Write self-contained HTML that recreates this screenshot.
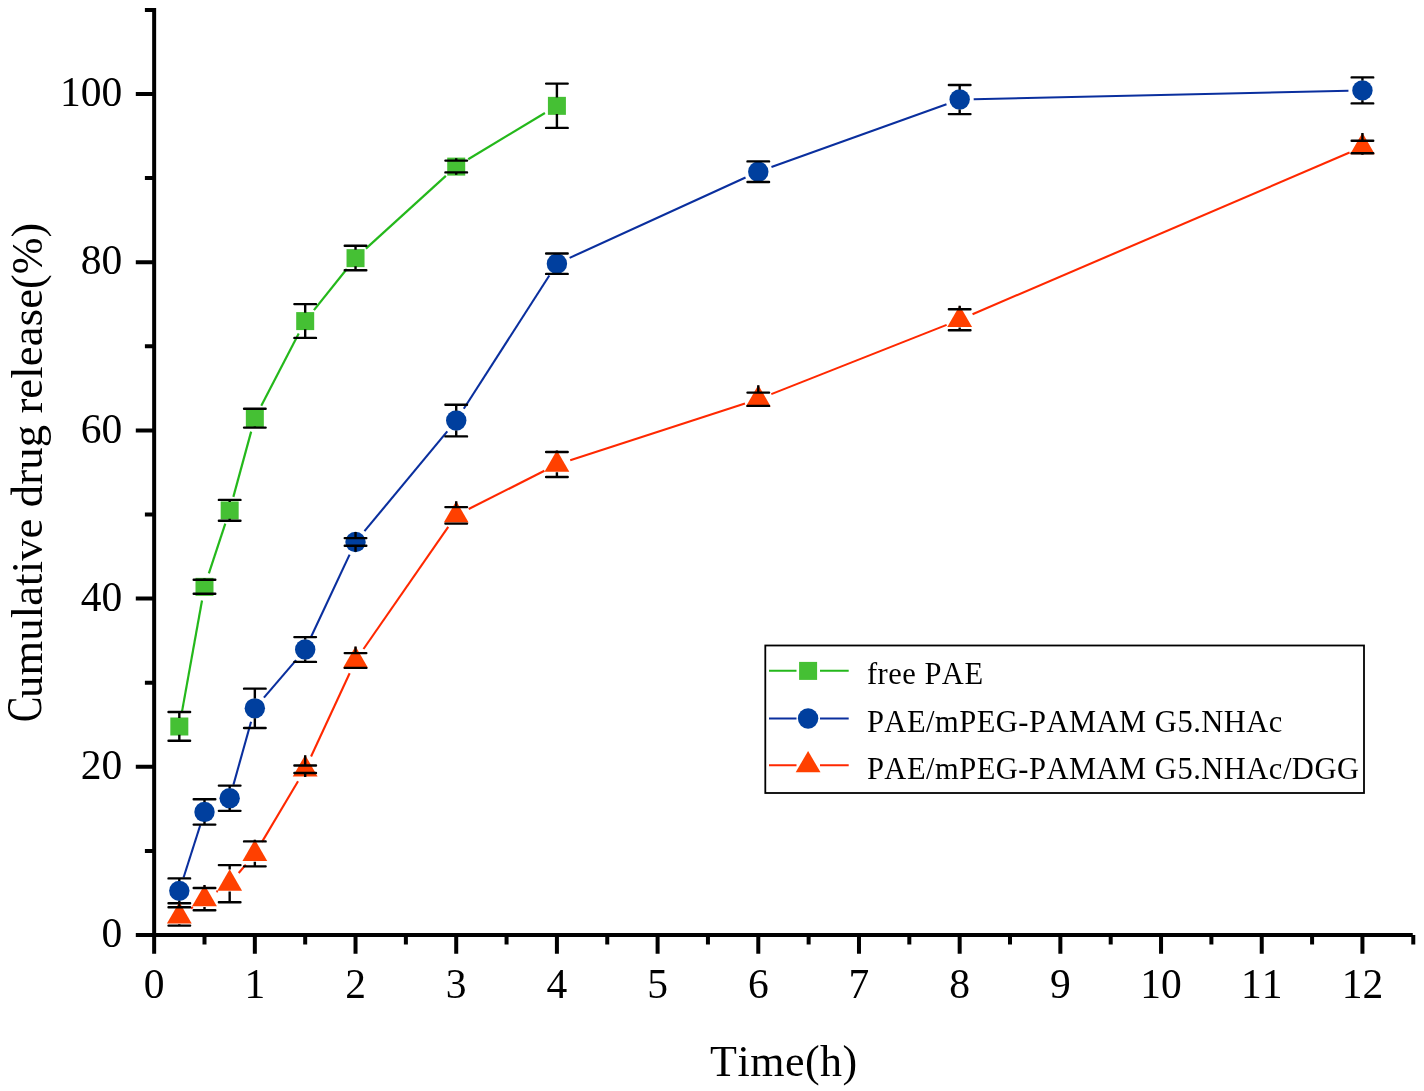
<!DOCTYPE html>
<html lang="en"><head><meta charset="utf-8"><title>Cumulative drug release</title>
<style>html,body{margin:0;padding:0;background:#fff}body{width:1424px;height:1091px;overflow:hidden}svg{display:block}text{font-kerning:none}</style>
</head><body>
<svg width="1424" height="1091" viewBox="0 0 1424 1091">
<rect width="1424" height="1091" fill="#fff"/>
<line x1="181.81" y1="712.62" x2="202.01" y2="600.53" stroke="#24b81b" stroke-width="2.2"/>
<line x1="208.88" y1="573.45" x2="225.29" y2="523.65" stroke="#24b81b" stroke-width="2.2"/>
<line x1="233.35" y1="496.84" x2="251.15" y2="431.66" stroke="#24b81b" stroke-width="2.2"/>
<line x1="261.28" y1="405.72" x2="298.74" y2="333.43" stroke="#24b81b" stroke-width="2.2"/>
<line x1="313.93" y1="310.07" x2="346.79" y2="268.98" stroke="#24b81b" stroke-width="2.2"/>
<line x1="365.89" y1="248.63" x2="445.86" y2="175.92" stroke="#24b81b" stroke-width="2.2"/>
<line x1="468.21" y1="159.27" x2="544.92" y2="112.98" stroke="#24b81b" stroke-width="2.2"/>
<rect x="170.32" y="717.50" width="18" height="18" fill="#45c034"/>
<rect x="195.50" y="577.85" width="18" height="18" fill="#45c034"/>
<rect x="220.67" y="501.45" width="18" height="18" fill="#45c034"/>
<rect x="245.84" y="409.25" width="18" height="18" fill="#45c034"/>
<rect x="296.19" y="312.10" width="18" height="18" fill="#45c034"/>
<rect x="346.53" y="249.15" width="18" height="18" fill="#45c034"/>
<rect x="447.22" y="157.60" width="18" height="18" fill="#45c034"/>
<rect x="547.91" y="96.85" width="18" height="18" fill="#45c034"/>
<path d="M168.52,712.00H190.12M168.52,740.80H190.12" stroke="#000" stroke-width="2.4" stroke-linecap="round" fill="none"/>
<path d="M179.32,712.00V718.10M179.32,740.80V734.70" stroke="#000" stroke-width="2.4" fill="none"/>
<path d="M193.69,579.70H215.30M193.69,593.80H215.30" stroke="#000" stroke-width="2.4" stroke-linecap="round" fill="none"/>
<path d="M204.50,579.70V578.45M204.50,593.80V595.05" stroke="#000" stroke-width="2.4" fill="none"/>
<path d="M218.87,499.90H240.47M218.87,520.80H240.47" stroke="#000" stroke-width="2.4" stroke-linecap="round" fill="none"/>
<path d="M229.67,499.90V502.05M229.67,520.80V518.65" stroke="#000" stroke-width="2.4" fill="none"/>
<path d="M244.04,408.70H265.64M244.04,427.60H265.64" stroke="#000" stroke-width="2.4" stroke-linecap="round" fill="none"/>
<path d="M254.84,408.70V409.85M254.84,427.60V426.45" stroke="#000" stroke-width="2.4" fill="none"/>
<path d="M294.38,304.10H315.99M294.38,337.90H315.99" stroke="#000" stroke-width="2.4" stroke-linecap="round" fill="none"/>
<path d="M305.19,304.10V312.70M305.19,337.90V329.30" stroke="#000" stroke-width="2.4" fill="none"/>
<path d="M344.73,245.80H366.33M344.73,270.30H366.33" stroke="#000" stroke-width="2.4" stroke-linecap="round" fill="none"/>
<path d="M355.53,245.80V249.75M355.53,270.30V266.35" stroke="#000" stroke-width="2.4" fill="none"/>
<path d="M445.42,160.60H467.02M445.42,172.40H467.02" stroke="#000" stroke-width="2.4" stroke-linecap="round" fill="none"/>
<path d="M456.22,160.60V158.20M456.22,172.40V174.80" stroke="#000" stroke-width="2.4" fill="none"/>
<path d="M546.11,83.60H567.71M546.11,127.90H567.71" stroke="#000" stroke-width="2.4" stroke-linecap="round" fill="none"/>
<path d="M556.91,83.60V97.45M556.91,127.90V114.05" stroke="#000" stroke-width="2.4" fill="none"/>
<line x1="183.58" y1="877.51" x2="200.24" y2="825.29" stroke="#0a2f9e" stroke-width="2.1"/>
<line x1="233.44" y1="784.74" x2="251.07" y2="721.81" stroke="#0a2f9e" stroke-width="2.1"/>
<line x1="263.94" y1="697.69" x2="296.08" y2="660.14" stroke="#0a2f9e" stroke-width="2.1"/>
<line x1="311.12" y1="636.82" x2="349.59" y2="554.63" stroke="#0a2f9e" stroke-width="2.1"/>
<line x1="364.47" y1="531.18" x2="447.28" y2="431.35" stroke="#0a2f9e" stroke-width="2.1"/>
<line x1="463.78" y1="408.79" x2="549.35" y2="275.48" stroke="#0a2f9e" stroke-width="2.1"/>
<line x1="569.64" y1="257.88" x2="745.56" y2="177.52" stroke="#0a2f9e" stroke-width="2.1"/>
<line x1="771.47" y1="166.98" x2="946.49" y2="104.27" stroke="#0a2f9e" stroke-width="2.1"/>
<line x1="973.67" y1="99.23" x2="1348.43" y2="90.72" stroke="#0a2f9e" stroke-width="2.1"/>
<circle cx="179.32" cy="890.85" r="10.2" fill="#003f9e"/>
<circle cx="204.50" cy="811.95" r="10.2" fill="#003f9e"/>
<circle cx="229.67" cy="798.23" r="10.2" fill="#003f9e"/>
<circle cx="254.84" cy="708.33" r="10.2" fill="#003f9e"/>
<circle cx="305.19" cy="649.50" r="10.2" fill="#003f9e"/>
<circle cx="355.53" cy="541.95" r="10.2" fill="#003f9e"/>
<circle cx="456.22" cy="420.57" r="10.2" fill="#003f9e"/>
<circle cx="556.91" cy="263.70" r="10.2" fill="#003f9e"/>
<circle cx="758.29" cy="171.70" r="10.2" fill="#003f9e"/>
<circle cx="959.67" cy="99.55" r="10.2" fill="#003f9e"/>
<circle cx="1362.43" cy="90.40" r="10.2" fill="#003f9e"/>
<path d="M168.52,878.40H190.12M168.52,903.30H190.12" stroke="#000" stroke-width="2.4" stroke-linecap="round" fill="none"/>
<path d="M179.32,878.40V880.95M179.32,903.30V900.75" stroke="#000" stroke-width="2.4" fill="none"/>
<path d="M193.69,799.30H215.30M193.69,824.60H215.30" stroke="#000" stroke-width="2.4" stroke-linecap="round" fill="none"/>
<path d="M204.50,799.30V802.05M204.50,824.60V821.85" stroke="#000" stroke-width="2.4" fill="none"/>
<path d="M218.87,785.60H240.47M218.87,810.85H240.47" stroke="#000" stroke-width="2.4" stroke-linecap="round" fill="none"/>
<path d="M229.67,785.60V788.33M229.67,810.85V808.12" stroke="#000" stroke-width="2.4" fill="none"/>
<path d="M244.04,688.65H265.64M244.04,728.00H265.64" stroke="#000" stroke-width="2.4" stroke-linecap="round" fill="none"/>
<path d="M254.84,688.65V698.43M254.84,728.00V718.23" stroke="#000" stroke-width="2.4" fill="none"/>
<path d="M294.38,637.10H315.99M294.38,661.90H315.99" stroke="#000" stroke-width="2.4" stroke-linecap="round" fill="none"/>
<path d="M305.19,637.10V639.60M305.19,661.90V659.40" stroke="#000" stroke-width="2.4" fill="none"/>
<path d="M344.73,538.10H366.33M344.73,545.80H366.33" stroke="#000" stroke-width="2.4" stroke-linecap="round" fill="none"/>
<path d="M355.53,538.10V532.05M355.53,545.80V551.85" stroke="#000" stroke-width="2.4" fill="none"/>
<path d="M445.42,404.75H467.02M445.42,436.40H467.02" stroke="#000" stroke-width="2.4" stroke-linecap="round" fill="none"/>
<path d="M456.22,404.75V410.68M456.22,436.40V430.47" stroke="#000" stroke-width="2.4" fill="none"/>
<path d="M546.11,253.50H567.71M546.11,273.90H567.71" stroke="#000" stroke-width="2.4" stroke-linecap="round" fill="none"/>
<path d="M556.91,253.50V253.80M556.91,273.90V273.60" stroke="#000" stroke-width="2.4" fill="none"/>
<path d="M747.49,161.40H769.09M747.49,182.00H769.09" stroke="#000" stroke-width="2.4" stroke-linecap="round" fill="none"/>
<path d="M758.29,161.40V161.80M758.29,182.00V181.60" stroke="#000" stroke-width="2.4" fill="none"/>
<path d="M948.87,85.00H970.47M948.87,114.10H970.47" stroke="#000" stroke-width="2.4" stroke-linecap="round" fill="none"/>
<path d="M959.67,85.00V89.65M959.67,114.10V109.45" stroke="#000" stroke-width="2.4" fill="none"/>
<path d="M1351.63,77.40H1373.23M1351.63,103.40H1373.23" stroke="#000" stroke-width="2.4" stroke-linecap="round" fill="none"/>
<path d="M1362.43,77.40V80.50M1362.43,103.40V100.30" stroke="#000" stroke-width="2.4" fill="none"/>
<line x1="190.87" y1="908.49" x2="192.95" y2="907.06" stroke="#ff2800" stroke-width="2.1"/>
<line x1="216.42" y1="891.81" x2="217.75" y2="890.99" stroke="#ff2800" stroke-width="2.1"/>
<line x1="238.71" y1="872.96" x2="245.80" y2="864.57" stroke="#ff2800" stroke-width="2.1"/>
<line x1="262.00" y1="841.84" x2="298.03" y2="781.28" stroke="#ff2800" stroke-width="2.1"/>
<line x1="311.07" y1="756.55" x2="349.65" y2="673.20" stroke="#ff2800" stroke-width="2.1"/>
<line x1="363.51" y1="649.00" x2="448.24" y2="526.85" stroke="#ff2800" stroke-width="2.1"/>
<line x1="468.72" y1="509.04" x2="544.41" y2="470.81" stroke="#ff2800" stroke-width="2.1"/>
<line x1="570.23" y1="460.18" x2="744.97" y2="403.57" stroke="#ff2800" stroke-width="2.1"/>
<line x1="771.31" y1="394.11" x2="946.65" y2="324.89" stroke="#ff2800" stroke-width="2.1"/>
<line x1="972.54" y1="314.23" x2="1349.56" y2="152.52" stroke="#ff2800" stroke-width="2.1"/>
<polygon points="179.32,902.08 191.72,923.56 166.92,923.56" fill="#ff4000"/>
<polygon points="204.50,884.83 216.90,906.31 192.09,906.31" fill="#ff4000"/>
<polygon points="229.67,869.33 242.07,890.81 217.27,890.81" fill="#ff4000"/>
<polygon points="254.84,839.56 267.24,861.03 242.44,861.03" fill="#ff4000"/>
<polygon points="305.19,754.93 317.58,776.41 292.79,776.41" fill="#ff4000"/>
<polygon points="355.53,646.18 367.93,667.66 343.13,667.66" fill="#ff4000"/>
<polygon points="456.22,501.03 468.62,522.51 443.82,522.51" fill="#ff4000"/>
<polygon points="556.91,450.18 569.31,471.66 544.51,471.66" fill="#ff4000"/>
<polygon points="758.29,384.93 770.69,406.41 745.89,406.41" fill="#ff4000"/>
<polygon points="959.67,305.43 972.07,326.91 947.27,326.91" fill="#ff4000"/>
<polygon points="1362.43,132.68 1374.83,154.16 1350.03,154.16" fill="#ff4000"/>
<path d="M168.52,907.20H190.12M168.52,925.60H190.12" stroke="#000" stroke-width="2.4" stroke-linecap="round" fill="none"/>
<path d="M179.32,907.20V902.30M179.32,925.60V924.20" stroke="#000" stroke-width="2.4" fill="none"/>
<path d="M193.69,888.00H215.30M193.69,910.30H215.30" stroke="#000" stroke-width="2.4" stroke-linecap="round" fill="none"/>
<path d="M204.50,888.00V885.05M204.50,910.30V906.95" stroke="#000" stroke-width="2.4" fill="none"/>
<path d="M218.87,865.10H240.47M218.87,902.20H240.47" stroke="#000" stroke-width="2.4" stroke-linecap="round" fill="none"/>
<path d="M229.67,865.10V869.55M229.67,902.20V891.45" stroke="#000" stroke-width="2.4" fill="none"/>
<path d="M244.04,841.40H265.64M244.04,866.35H265.64" stroke="#000" stroke-width="2.4" stroke-linecap="round" fill="none"/>
<path d="M254.84,841.40V839.77M254.84,866.35V861.67" stroke="#000" stroke-width="2.4" fill="none"/>
<path d="M294.38,765.50H315.99M294.38,773.00H315.99" stroke="#000" stroke-width="2.4" stroke-linecap="round" fill="none"/>
<path d="M305.19,765.50V755.15M305.19,773.00V777.05" stroke="#000" stroke-width="2.4" fill="none"/>
<path d="M344.73,653.10H366.33M344.73,667.90H366.33" stroke="#000" stroke-width="2.4" stroke-linecap="round" fill="none"/>
<path d="M355.53,653.10V646.40M355.53,667.90V668.30" stroke="#000" stroke-width="2.4" fill="none"/>
<path d="M445.42,507.10H467.02M445.42,523.60H467.02" stroke="#000" stroke-width="2.4" stroke-linecap="round" fill="none"/>
<path d="M456.22,507.10V501.25M456.22,523.60V523.15" stroke="#000" stroke-width="2.4" fill="none"/>
<path d="M546.11,452.00H567.71M546.11,477.00H567.71" stroke="#000" stroke-width="2.4" stroke-linecap="round" fill="none"/>
<path d="M556.91,452.00V450.40M556.91,477.00V472.30" stroke="#000" stroke-width="2.4" fill="none"/>
<path d="M747.49,392.60H769.09M747.49,405.90H769.09" stroke="#000" stroke-width="2.4" stroke-linecap="round" fill="none"/>
<path d="M758.29,392.60V385.15M758.29,405.90V407.05" stroke="#000" stroke-width="2.4" fill="none"/>
<path d="M948.87,309.30H970.47M948.87,330.20H970.47" stroke="#000" stroke-width="2.4" stroke-linecap="round" fill="none"/>
<path d="M959.67,309.30V305.65M959.67,330.20V327.55" stroke="#000" stroke-width="2.4" fill="none"/>
<path d="M1351.63,140.80H1373.23M1351.63,153.20H1373.23" stroke="#000" stroke-width="2.4" stroke-linecap="round" fill="none"/>
<path d="M1362.43,140.80V132.90M1362.43,153.20V154.80" stroke="#000" stroke-width="2.4" fill="none"/>
<g stroke="#000" stroke-width="4.0" fill="none">
<path d="M154.15,7.90V937.00"/>
<path d="M152.15,935.00H1412.78"/>
<path d="M135.8,935.00H154.15M144.9,850.90H154.15M135.8,766.80H154.15M144.9,682.70H154.15M135.8,598.60H154.15M144.9,514.50H154.15M135.8,430.40H154.15M144.9,346.30H154.15M135.8,262.20H154.15M144.9,178.10H154.15M135.8,94.00H154.15M144.9,9.90H154.15"/>
<path d="M154.15,935.00V953.7M204.50,935.00V944.6M254.84,935.00V953.7M305.19,935.00V944.6M355.53,935.00V953.7M405.88,935.00V944.6M456.22,935.00V953.7M506.56,935.00V944.6M556.91,935.00V953.7M607.25,935.00V944.6M657.60,935.00V953.7M707.94,935.00V944.6M758.29,935.00V953.7M808.63,935.00V944.6M858.98,935.00V953.7M909.32,935.00V944.6M959.67,935.00V953.7M1010.01,935.00V944.6M1060.36,935.00V953.7M1110.70,935.00V944.6M1161.05,935.00V953.7M1211.39,935.00V944.6M1261.74,935.00V953.7M1312.09,935.00V944.6M1362.43,935.00V953.7M1413.28,935.00V944.6"/>
</g>
<g font-family="'Liberation Serif', 'Times New Roman', serif" font-size="41.5" fill="#000">
<text x="122.3" y="947.20" text-anchor="end">0</text>
<text x="122.3" y="779.00" text-anchor="end">20</text>
<text x="122.3" y="610.80" text-anchor="end">40</text>
<text x="122.3" y="442.60" text-anchor="end">60</text>
<text x="122.3" y="274.40" text-anchor="end">80</text>
<text x="122.3" y="106.20" text-anchor="end">100</text>
<text x="154.15" y="997.9" text-anchor="middle">0</text>
<text x="254.84" y="997.9" text-anchor="middle">1</text>
<text x="355.53" y="997.9" text-anchor="middle">2</text>
<text x="456.22" y="997.9" text-anchor="middle">3</text>
<text x="556.91" y="997.9" text-anchor="middle">4</text>
<text x="657.60" y="997.9" text-anchor="middle">5</text>
<text x="758.29" y="997.9" text-anchor="middle">6</text>
<text x="858.98" y="997.9" text-anchor="middle">7</text>
<text x="959.67" y="997.9" text-anchor="middle">8</text>
<text x="1060.36" y="997.9" text-anchor="middle">9</text>
<text x="1161.05" y="997.9" text-anchor="middle">10</text>
<text x="1261.74" y="997.9" text-anchor="middle">11</text>
<text x="1362.43" y="997.9" text-anchor="middle">12</text>
</g>
<text font-family="'Liberation Serif', 'Times New Roman', serif" font-size="44" letter-spacing="0.5" x="783.9" y="1075.8" text-anchor="middle">Time(h)</text>
<text font-family="'Liberation Serif', 'Times New Roman', serif" font-size="44" transform="translate(41.5,722) rotate(-90)"><tspan x="0" dy="-0.5" font-size="51.04" textLength="25.25" lengthAdjust="spacingAndGlyphs">C</tspan><tspan x="24" dy="0.5" letter-spacing="0.16" textLength="409.1" lengthAdjust="spacingAndGlyphs">umulative drug release</tspan><tspan x="433" letter-spacing="0.16">(%)</tspan></text>
<rect x="765.3" y="645.5" width="598.7" height="147.5" fill="#fff" stroke="#000" stroke-width="1.8"/>
<path d="M769,670.8H796.50M820.00,670.8H848.7" stroke="#24b81b" stroke-width="2.0"/>
<rect x="799.10" y="661.90" width="18" height="18" fill="#45c034"/>
<text font-family="'Liberation Serif', 'Times New Roman', serif" font-size="30.5" letter-spacing="0.5" x="866.9" y="684.3">free PAE</text>
<path d="M769,718.5H796.50M820.00,718.5H848.7" stroke="#0a2f9e" stroke-width="2.0"/>
<circle cx="808.10" cy="718.50" r="10.2" fill="#003f9e"/>
<text font-family="'Liberation Serif', 'Times New Roman', serif" font-size="30.5" letter-spacing="0.5" x="866.9" y="731.9">PAE/mPEG-PAMAM G5.NHAc</text>
<path d="M769,765.2H796.50M820.00,765.2H848.7" stroke="#ff2800" stroke-width="2.0"/>
<polygon points="808.10,750.88 820.50,772.36 795.70,772.36" fill="#ff4000"/>
<text font-family="'Liberation Serif', 'Times New Roman', serif" font-size="30.5" letter-spacing="0.5" x="866.9" y="778.6">PAE/mPEG-PAMAM G5.NHAc/DGG</text>
</svg>
</body></html>
